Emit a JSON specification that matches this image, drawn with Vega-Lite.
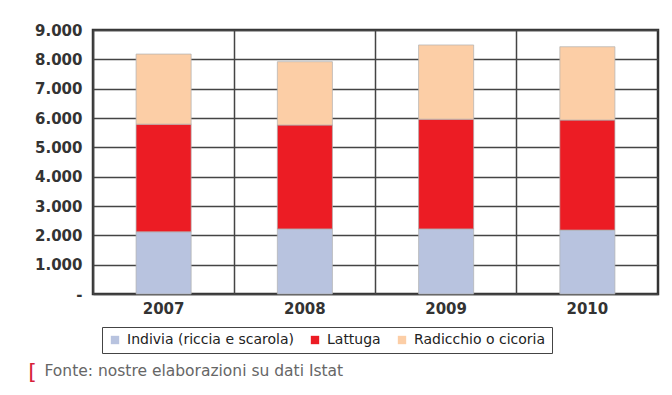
{
  "$schema": "https://vega.github.io/schema/vega-lite/v6.json",
  "width": 565,
  "height": 264,
  "autosize": {"type": "none"},
  "padding": {"left": 93, "top": 30, "right": 14, "bottom": 101},
  "background": "white",
  "config": {
    "locale": {"number": {"decimal": ",", "thousands": ".", "grouping": [3], "currency": ["€", ""]}},
    "view": {"stroke": "#333", "strokeWidth": 2.5},
    "font": "DejaVu Sans"
  },
  "data": {
    "values": [
      {"anno": "2007", "serie": "Indivia (riccia e scarola)", "valore": 2120},
      {"anno": "2007", "serie": "Lattuga", "valore": 3670},
      {"anno": "2007", "serie": "Radicchio o cicoria", "valore": 2390},
      {"anno": "2008", "serie": "Indivia (riccia e scarola)", "valore": 2220},
      {"anno": "2008", "serie": "Lattuga", "valore": 3540},
      {"anno": "2008", "serie": "Radicchio o cicoria", "valore": 2160},
      {"anno": "2009", "serie": "Indivia (riccia e scarola)", "valore": 2220},
      {"anno": "2009", "serie": "Lattuga", "valore": 3740},
      {"anno": "2009", "serie": "Radicchio o cicoria", "valore": 2530},
      {"anno": "2010", "serie": "Indivia (riccia e scarola)", "valore": 2180},
      {"anno": "2010", "serie": "Lattuga", "valore": 3750},
      {"anno": "2010", "serie": "Radicchio o cicoria", "valore": 2500}
    ]
  },
  "mark": {"type": "bar", "width": {"band": 0.39}, "stroke": "#b0b0b0", "strokeWidth": 0.7},
  "encoding": {
    "x": {
      "field": "anno",
      "type": "ordinal",
      "scale": {"paddingInner": 0, "paddingOuter": 0},
      "axis": {
        "title": "Fonte: nostre elaborazioni su dati Istat",
        "titleX": -49,
        "titleY": 76,
        "titleAlign": "left",
        "titleAnchor": "start",
        "titleBaseline": "middle",
        "titleFont": "DejaVu Sans",
        "titleFontSize": 15.5,
        "titleFontWeight": "normal",
        "titleColor": "#666",
        "labelAngle": 0,
        "labelFontSize": 15,
        "labelFontWeight": "bold",
        "labelColor": "#333",
        "labelPadding": 7,
        "ticks": false,
        "domain": false,
        "grid": true,
        "bandPosition": 0,
        "gridColor": "#444",
        "gridWidth": 1.5,
        "gridOpacity": 1
      }
    },
    "y": {
      "field": "valore",
      "type": "quantitative",
      "stack": "zero",
      "scale": {"domain": [0, 9000], "nice": false},
      "axis": {
        "values": [0, 1000, 2000, 3000, 4000, 5000, 6000, 7000, 8000, 9000],
        "format": ",d",
        "labelExpr": "datum.value === 0 ? '-' : datum.label",
        "labelFontSize": 15,
        "labelFontWeight": "bold",
        "labelColor": "#333",
        "labelPadding": 11,
        "title": "[",
        "titleAngle": 0,
        "titleX": -61,
        "titleY": 341,
        "titleAlign": "center",
        "titleBaseline": "middle",
        "titleColor": "#d71f3a",
        "titleFontSize": 22,
        "titleFontWeight": "normal",
        "domain": false,
        "ticks": false,
        "grid": true,
        "gridColor": "#444",
        "gridWidth": 1.5,
        "gridOpacity": 1
      }
    },
    "order": {"field": "serie", "sort": "ascending"},
    "color": {
      "field": "serie",
      "type": "nominal",
      "scale": {
        "domain": ["Indivia (riccia e scarola)", "Lattuga", "Radicchio o cicoria"],
        "range": ["#b8c3df", "#ec1c24", "#fccea6"]
      },
      "legend": {
        "title": null,
        "orient": "none",
        "legendX": 9,
        "legendY": 297,
        "direction": "horizontal",
        "symbolType": "square",
        "symbolSize": 70,
        "symbolStrokeWidth": 0,
        "labelFont": "DejaVu Sans",
        "labelFontSize": 14,
        "labelColor": "#222",
        "labelOffset": 5,
        "labelLimit": 300,
        "columnPadding": 14,
        "padding": 6,
        "strokeColor": "#444",
        "fillColor": "white",
        "encode": {"legend": {"update": {"strokeWidth": {"value": 1.5}}}}
      }
    }
  }
}
